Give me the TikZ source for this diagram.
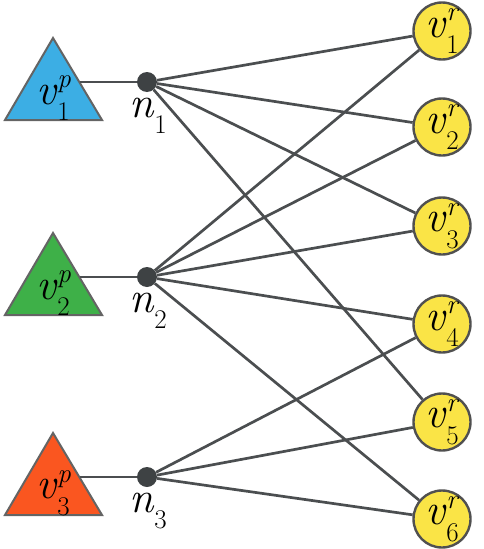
\documentclass[tikz,border=0pt]{standalone}
\usepackage{fontspec}
\definecolor{tblue}{RGB}{60,174,228}
\definecolor{tgreen}{RGB}{62,176,72}
\definecolor{torange}{RGB}{250,86,32}
\definecolor{vyellow}{RGB}{250,228,70}
\definecolor{edgegray}{RGB}{75,78,80}
\definecolor{trigray}{RGB}{100,100,100}
\definecolor{cgray}{RGB}{80,80,80}
\definecolor{dotgray}{RGB}{62,66,68}
\newcommand{\vlab}[3]{\textit{#1}\makebox[0pt][l]{\raisebox{0.38em}{\fontsize{27}{27}\selectfont\textit{#2}}}\raisebox{-0.37em}{\fontsize{27}{27}\selectfont #3}}
\begin{document}
\begin{tikzpicture}[x=1pt,y=-1pt,
  edge/.style={draw=edgegray, line width=2.7pt},
  tri/.style={draw=trigray, line width=2pt, line join=miter},
  rnode/.style={circle, draw=cgray, line width=2.4pt, fill=vyellow, minimum size=57pt, inner sep=0pt, font=\fontsize{44}{44}\selectfont},
  dot/.style={circle, fill=dotgray, minimum size=20pt, inner sep=0pt},
  lab/.style={font=\fontsize{44}{44}\selectfont, inner sep=0pt}]
\useasboundingbox (0,0) rectangle (484,549);
% triangles
\foreach \i/\ny/\col in {1/82/tblue, 2/277/tgreen, 3/477/torange}{
  \draw[tri, fill=\col] (5,\ny+38) -- (53,\ny-44) -- (102,\ny+38) -- cycle;
  \coordinate (t\i) at (80,\ny);
  \node[lab] (p\i) at (53,\ny+16) {\vlab{v}{p}{\i}};
  \node[dot] (n\i) at (147,\ny) {};
  \node[lab] (ln\i) at (148,\ny+34) {\vlab{n}{}{\i}};
}
% right nodes
\foreach \j/\ry in {1/31, 2/127, 3/226, 4/324, 5/422, 6/519}{
  \node[rnode] (r\j) at (442,\ry) {\vlab{v}{r}{\j}};
}
% edges
\foreach \i in {1,2,3}{ \draw[edge] (t\i) -- (n\i); }
\foreach \j in {1,2,3,5}{ \draw[edge] (n1) -- (r\j); }
\foreach \j in {1,2,3,4,6}{ \draw[edge] (n2) -- (r\j); }
\foreach \j in {4,5,6}{ \draw[edge] (n3) -- (r\j); }
\end{tikzpicture}
\end{document}
